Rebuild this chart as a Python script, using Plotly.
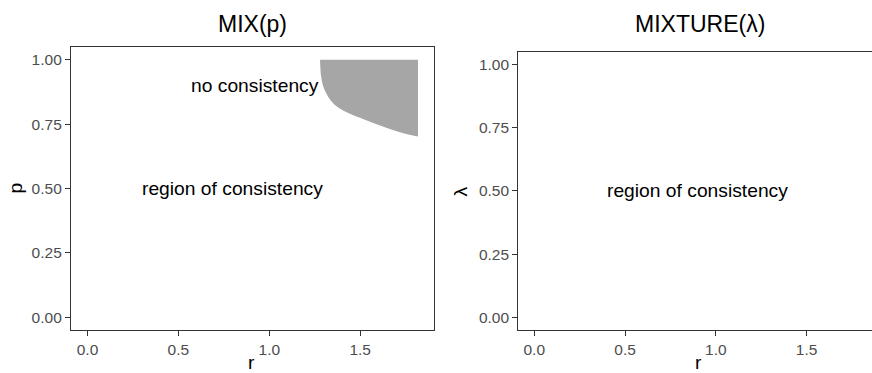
import plotly.graph_objects as go

# Boundary of the inconsistent region for MIX(p): lower edge p(r), upper edge p = 1
r_bound = [1.279, 1.281, 1.284, 1.297, 1.324, 1.361, 1.434, 1.526, 1.617, 1.709, 1.818]
p_bound = [1.000, 0.970, 0.942, 0.896, 0.857, 0.825, 0.793, 0.767, 0.743, 0.721, 0.702]
p_top = 1.0

y_ticks = [0.0, 0.25, 0.5, 0.75, 1.0]
y_tick_text = ["0.00", "0.25", "0.50", "0.75", "1.00"]
x_ticks = [0.0, 0.5, 1.0, 1.5]
x_tick_text = ["0.0", "0.5", "1.0", "1.5"]

panel_titles = ["MIX(p)", "MIXTURE(λ)"]
y_titles = ["p", "λ"]
x_title = "r"

# Text labels placed inside the panels (r, p/λ, text)
left_labels = [(0.924, 0.90, "no consistency"), (0.80, 0.50, "region of consistency")]
right_labels = [(0.90, 0.50, "region of consistency")]

W, H = 872, 373
FONT = "Liberation Sans, Arial, sans-serif"
LINE = "#333333"
TICKTXT = "#4D4D4D"
SHADE = "#A6A6A6"

fig = go.Figure()

# Ribbon between the lower boundary and p = 1
fig.add_trace(go.Scatter(
    x=r_bound, y=[p_top] * len(r_bound), mode="lines",
    line=dict(width=0, color=SHADE), hoverinfo="skip", showlegend=False,
    xaxis="x", yaxis="y",
))
fig.add_trace(go.Scatter(
    x=r_bound, y=p_bound, mode="lines", fill="tonexty", fillcolor=SHADE,
    line=dict(width=0, color=SHADE, shape="spline", smoothing=1.0),
    hoverinfo="skip", showlegend=False, xaxis="x", yaxis="y",
))
# Empty trace to activate the second panel
fig.add_trace(go.Scatter(x=[None], y=[None], mode="lines", showlegend=False,
                         xaxis="x2", yaxis="y2", hoverinfo="skip"))


def px_x(v):
    return v / W


def px_y(v):
    return 1 - v / H


axis_common = dict(
    showgrid=False, zeroline=False, showline=True, linecolor=LINE, linewidth=1.3,
    ticks="outside", ticklen=5, tickwidth=1.1, tickcolor=LINE,
    tickfont=dict(family=FONT, size=15.5, color=TICKTXT),
)

fig.update_layout(
    width=W, height=H,
    margin=dict(l=0, r=0, t=0, b=0),
    paper_bgcolor="white", plot_bgcolor="white",
    showlegend=False,
    xaxis=dict(domain=[px_x(71), px_x(434)], range=[-0.0907, 1.906],
               tickvals=x_ticks, ticktext=x_tick_text, mirror=True, anchor="y",
               **axis_common),
    yaxis=dict(domain=[px_y(330), px_y(47)], range=[-0.05, 1.05],
               tickvals=y_ticks, ticktext=y_tick_text, mirror=True, anchor="x",
               **axis_common),
    xaxis2=dict(domain=[px_x(518.3), 1.0], range=[-0.088, 1.860],
                tickvals=x_ticks, ticktext=x_tick_text, mirror=True, anchor="y2",
                **axis_common),
    yaxis2=dict(domain=[px_y(330), px_y(51.7)], range=[-0.05, 1.05],
                tickvals=y_ticks, ticktext=y_tick_text, mirror=False, anchor="x2",
                **axis_common),
)

annotations = []
# Panel titles
for cx, txt in zip([252.5, 699.5], panel_titles):
    annotations.append(dict(x=px_x(cx), y=px_y(24), xref="paper", yref="paper",
                            text=txt, showarrow=False, xanchor="center", yanchor="middle",
                            font=dict(family=FONT, size=23, color="black")))
# x-axis titles
for cx in [251, 698]:
    annotations.append(dict(x=px_x(cx), y=px_y(362), xref="paper", yref="paper",
                            text=x_title, showarrow=False, xanchor="center", yanchor="middle",
                            font=dict(family=FONT, size=19.25, color="black")))
# y-axis titles (rotated)
for cx, cy, txt in [(14.5, 188, y_titles[0]), (459.5, 191, y_titles[1])]:
    annotations.append(dict(x=px_x(cx), y=px_y(cy), xref="paper", yref="paper",
                            text=txt, showarrow=False, textangle=-90,
                            xanchor="center", yanchor="middle",
                            font=dict(family=FONT, size=19.25, color="black")))
# In-panel labels
for x, y, txt in left_labels:
    annotations.append(dict(x=x, y=y, xref="x", yref="y", text=txt, showarrow=False,
                            font=dict(family=FONT, size=19.25, color="black")))
for x, y, txt in right_labels:
    annotations.append(dict(x=x, y=y, xref="x2", yref="y2", text=txt, showarrow=False,
                            font=dict(family=FONT, size=19.25, color="black")))

fig.update_layout(annotations=annotations)

fig.write_html("out.html", config={"displayModeBar": False})
